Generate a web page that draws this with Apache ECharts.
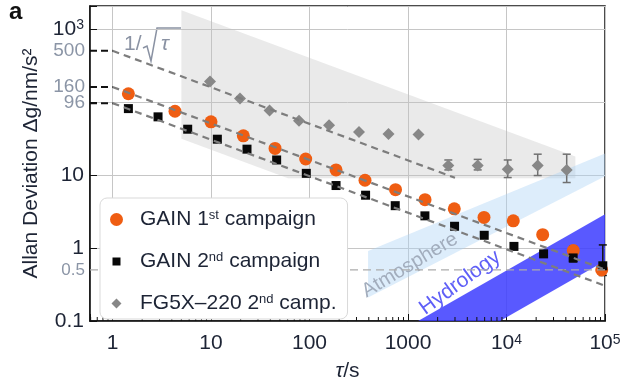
<!DOCTYPE html>
<html>
<head>
<meta charset="utf-8">
<script src="https://cdn.jsdelivr.net/npm/echarts@6/dist/echarts.min.js"></script>
<style>
  html, body { margin: 0; padding: 0; background: #fff; }
  #chart { width: 625px; height: 387px; }
</style>
</head>
<body>
<div id="chart"></div>
<script>
// ---- data: averaging time τ (s) and Allan deviation (nm/s²) ----
const gain1Tau = [1.45, 4.31, 10, 21.3, 44.7, 91.5, 186, 366, 747, 1489, 2950, 5910, 11720, 23300, 47650, 92600];
const gain1Dev = [129, 74.3, 53.2, 34.3, 23.0, 16.5, 11.7, 8.44, 6.27, 4.58, 3.43, 2.62, 2.35, 1.52, 0.92, 0.50];

const gain2Tau = [1.45, 2.9, 5.8, 11.6, 23.2, 46.4, 92.8, 186, 371, 742, 1485, 2970, 5940, 11900, 23800, 47500, 95000];
const gain2Dev = [80.8, 62.3, 42.2, 30.8, 22.5, 16.0, 10.5, 7.15, 5.27, 3.79, 2.75, 1.98, 1.49, 1.05, 0.83, 0.73, 0.57];
const gain2ErrTau = [47500, 95000];
const gain2ErrLow = [0.645, 0.42];
const gain2ErrHigh = [1.05, 1.1];

const fg5Tau = [9.77, 19.7, 39.3, 78.2, 158, 318, 634, 1279, 2566, 5100, 10290, 20740, 40840];
const fg5Dev = [190, 111, 75.9, 54.9, 47.9, 38.7, 36.3, 35.7, 13.4, 13.4, 11.9, 13.4, 11.7];
const fg5ErrTau = [2566, 5100, 10290, 20740, 40840];
const fg5ErrLow = [11.7, 11.7, 9.2, 9.8, 7.86];
const fg5ErrHigh = [16.0, 16.3, 16.0, 19.2, 19.2];

const seriesNames = ['GAIN 1st campaign', 'GAIN 2nd campaign', 'FG5X\u2013220 2nd camp.'];

// white-noise reference lines σ(τ) = σ1 / √τ
const fitSigma1 = [500, 160, 96];
const fitEndTau = [3000, 1e5, 1e5];
const noiseFloor = 0.5;

// shaded regions (τ, σ) vertices
const fg5Envelope = [[5, 1789], [50000, 17.9], [50000, 9], [60.5, 9], [5, 31.3]];
const atmosphereBand = [[393, 0.91], [1e5, 19.7], [1e5, 9.6], [393, 0.209]];
const hydrologyBand = [[1265, 0.1], [1e5, 2.9], [1e5, 0.665], [8590, 0.1]];

// axis ticks
const xMajorTicks = [1, 10, 100, 1000, 1e4, 1e5];
const xMinorMantissa = [2, 3, 4, 5, 6, 7, 8, 9];
const yExtraTicks = [500, 160, 96, 0.5];

// ---- layout / style ----
const TAU_MIN = 0.591, TAU_MAX = 1e5, DEV_MIN = 0.1, DEV_MAX = 2050;
const FONT = '"Liberation Sans", Arial, Helvetica, sans-serif';
const INK = '#1d2435';
const GREY_TXT = '#8b95a6';
const NOTE_GREY = '#8a92a3';

function powLabel(v, plainUpTo) {
  const e = Math.log10(v), r = Math.round(e);
  if (Math.abs(e - r) > 1e-6) return '';
  if (r > plainUpTo) return '{n|10}{s|' + r + '}';
  return r < 0 ? String(Math.pow(10, r).toFixed(-r)) : String(Math.pow(10, r));
}
const labelRich = {
  n: { fontSize: 21, fontFamily: FONT, color: INK },
  s: { fontSize: 14, fontFamily: FONT, color: INK, verticalAlign: 'top' }
};

const xMinorTicks = [];
for (let d = 0.1; d < TAU_MAX; d *= 10) {
  xMinorMantissa.forEach(m => {
    const t = +(m * d).toPrecision(3);
    if (t > TAU_MIN && t < TAU_MAX && xMajorTicks.indexOf(t) < 0) xMinorTicks.push(t);
  });
}

function zip(a, b) { return a.map((v, i) => [v, b[i]]); }

function regionSeries(name, verts, fill) {
  return {
    type: 'custom', name, silent: true, clip: true,
    data: [verts[0]],
    renderItem: (params, api) => ({
      type: 'polygon',
      shape: { points: verts.map(v => api.coord(v)) },
      style: { fill }
    })
  };
}

function errorBarSeries(name, taus, lows, highs, color) {
  return {
    type: 'custom', name, silent: true,
    data: taus.map((t, i) => [t, lows[i], highs[i]]),
    encode: { x: 0, y: [1, 2] },
    renderItem: (params, api) => {
      const lo = api.coord([api.value(0), api.value(1)]);
      const hi = api.coord([api.value(0), api.value(2)]);
      const w = 4;
      const st = { stroke: color, lineWidth: 1.5 };
      return {
        type: 'group',
        children: [
          { type: 'line', shape: { x1: lo[0], y1: lo[1], x2: hi[0], y2: hi[1] }, style: st },
          { type: 'line', shape: { x1: lo[0] - w, y1: lo[1], x2: lo[0] + w, y2: lo[1] }, style: st },
          { type: 'line', shape: { x1: hi[0] - w, y1: hi[1], x2: hi[0] + w, y2: hi[1] }, style: st }
        ]
      };
    }
  };
}

function dashedLine(name, pts, color, width, dash) {
  return {
    type: 'line', name, silent: true, symbol: 'none', data: pts,
    lineStyle: { color, width, type: dash }
  };
}

// rotated band captions, anchored in data space
const bandCaptions = [
  { text: 'Atmosphere', at: [1047, 0.58], angle: 31, color: '#a2adbd', size: 20 },
  { text: 'Hydrology', at: [3370, 0.334], angle: 36, color: '#5f5ff7', size: 21 }
];

const SQUARE_ICON = 'path://M0,0h0.01v0.01h-0.01z M13,13h0.01v0.01h-0.01z M2.5,2.5h8v8h-8z';
const DIAMOND_ICON = 'path://M0,0h0.01v0.01h-0.01z M13,13h0.01v0.01h-0.01z M6.5,1.5L11.5,6.5L6.5,11.5L1.5,6.5z';

const series = [
  regionSeries('fg5 envelope', fg5Envelope, 'rgba(190,190,190,0.33)'),
  regionSeries('atmosphere', atmosphereBand, 'rgba(170,210,245,0.4)'),
  regionSeries('hydrology', hydrologyBand, 'rgba(60,60,255,0.85)'),
  dashedLine('noise floor', [[TAU_MIN, noiseFloor], [TAU_MAX, noiseFloor]], '#acacac', 1.2, [8, 5]),
  {
    type: 'custom', name: 'band captions', silent: true,
    data: bandCaptions.map(c => c.at),
    renderItem: (params, api) => {
      const c = bandCaptions[params.dataIndex];
      const p = api.coord(c.at);
      return {
        type: 'text', x: p[0], y: p[1], rotation: c.angle * Math.PI / 180,
        style: { text: c.text, fontSize: c.size, fontFamily: FONT, fill: c.color, align: 'center', verticalAlign: 'middle' }
      };
    }
  },
  errorBarSeries('fg5 errors', fg5ErrTau, fg5ErrLow, fg5ErrHigh, '#707070'),
  errorBarSeries('gain2 errors', gain2ErrTau, gain2ErrLow, gain2ErrHigh, '#111'),
  {
    type: 'scatter', name: seriesNames[0], data: zip(gain1Tau, gain1Dev),
    symbol: 'circle', symbolSize: 13, itemStyle: { color: '#ef5d12', opacity: 1 }
  },
  {
    type: 'scatter', name: seriesNames[1], data: zip(gain2Tau, gain2Dev),
    symbol: 'rect', symbolSize: 9, itemStyle: { color: '#080808', opacity: 1 }
  },
  {
    type: 'scatter', name: seriesNames[2], data: zip(fg5Tau, fg5Dev),
    symbol: 'diamond', symbolSize: [12, 12], itemStyle: { color: '#878787', opacity: 1 }
  }
];

fitSigma1.forEach((s1, i) => {
  const tEnd = fitEndTau[i];
  series.push(dashedLine('fit ' + s1, [[1, s1], [tEnd, s1 / Math.sqrt(tEnd)]], '#7d7d7d', 2.2, [7, 5]));
  series.push(dashedLine('mark ' + s1, [[TAU_MIN, s1], [1, s1]], '#111', 2, [7, 4]));
});

// extra y tick labels (σ1 levels and noise floor)
series.push({
  type: 'custom', name: 'extra y labels', silent: true, clip: false,
  data: yExtraTicks.map(v => [TAU_MIN, v]),
  renderItem: (params, api) => {
    const v = api.value(1);
    const p = api.coord([TAU_MIN, v]);
    return {
      type: 'text', x: p[0] - 5, y: p[1],
      style: { text: String(v), fontSize: v < 1 ? 17 : 19, fontFamily: FONT, fill: GREY_TXT, align: 'right', verticalAlign: 'middle' }
    };
  }
});

// minor ticks on the τ axis
series.push({
  type: 'custom', name: 'minor ticks', silent: true, clip: false,
  data: xMinorTicks.map(t => [t, DEV_MIN]),
  renderItem: (params, api) => {
    const p = api.coord([api.value(0), DEV_MIN]);
    return { type: 'line', shape: { x1: p[0], y1: p[1], x2: p[0], y2: p[1] - 4 }, style: { stroke: '#111', lineWidth: 1 } };
  }
});

const option = {
  animation: false,
  backgroundColor: '#fff',
  textStyle: { fontFamily: FONT },
  grid: { left: 90, right: 20, top: 6, bottom: 64.5, show: true, borderColor: '#111', borderWidth: 1.5, backgroundColor: 'transparent' },
  xAxis: {
    type: 'log', logBase: 10, min: TAU_MIN, max: TAU_MAX,
    name: '{i|\u03c4}/s', nameLocation: 'middle', nameGap: 40,
    nameTextStyle: { fontSize: 21, color: INK, fontFamily: FONT, rich: { i: { fontStyle: 'italic', fontSize: 21, color: INK, fontFamily: FONT } } },
    axisLine: { lineStyle: { color: '#111', width: 1.5 } },
    axisTick: { inside: true, length: 7, lineStyle: { color: '#111', width: 1 } },
    axisLabel: { margin: 12, fontSize: 21, color: INK, fontFamily: FONT, formatter: v => powLabel(v, 3), rich: labelRich },
    splitLine: { show: true, lineStyle: { color: '#c6c6c6', width: 1 } }
  },
  yAxis: {
    type: 'log', logBase: 10, min: DEV_MIN, max: DEV_MAX,
    name: 'Allan Deviation \u0394g/nm/s\u00b2', nameLocation: 'middle', nameGap: 46,
    nameTextStyle: { fontSize: 21, color: INK, fontFamily: FONT },
    axisLine: { lineStyle: { color: '#111', width: 1.5 } },
    axisTick: { inside: true, length: 7, lineStyle: { color: '#111', width: 1 } },
    axisLabel: {
      margin: 6, fontSize: 21, color: INK, fontFamily: FONT, rich: labelRich,
      formatter: v => { const s = powLabel(v, 2); return s === '100' ? '' : s; }
    },
    splitLine: { show: true, lineStyle: { color: '#c6c6c6', width: 1 } }
  },
  legend: {
    data: [
      { name: seriesNames[0], icon: 'circle' },
      { name: seriesNames[1], icon: SQUARE_ICON },
      { name: seriesNames[2], icon: DIAMOND_ICON }
    ],
    left: 100, top: 198, orient: 'vertical', selectedMode: false,
    backgroundColor: '#fff', borderColor: '#d9d9d9', borderWidth: 1, borderRadius: 7,
    padding: [11, 11, 5, 10], itemWidth: 13, itemHeight: 13, itemGap: 21,
    formatter: n => n.replace(/(\d)(st|nd)\b/, '$1{s|$2}'),
    textStyle: {
      fontSize: 21, color: INK, fontFamily: FONT, padding: [0, 0, 0, 12],
      rich: { s: { fontSize: 13, color: INK, fontFamily: FONT, verticalAlign: 'top' } }
    }
  },
  graphic: [
    { type: 'text', left: 9, top: 0, style: { text: 'a', font: 'bold 24px ' + FONT, fill: '#111' } },
    { type: 'text', left: 124, top: 34, style: { text: '1/', fontSize: 21, fontFamily: FONT, fill: NOTE_GREY } },
    {
      type: 'polyline',
      shape: { points: [[143, 48], [147, 46], [151, 61], [157, 28], [181, 28]] },
      style: { stroke: NOTE_GREY, lineWidth: 1.5, fill: null }
    },
    { type: 'text', left: 161, top: 34, style: { text: '\u03c4', fontSize: 21, fontStyle: 'italic', fontFamily: FONT, fill: NOTE_GREY } }
  ],
  series
};

const chart = echarts.init(document.getElementById('chart'));
chart.setOption(option);
</script>
</body>
</html>
